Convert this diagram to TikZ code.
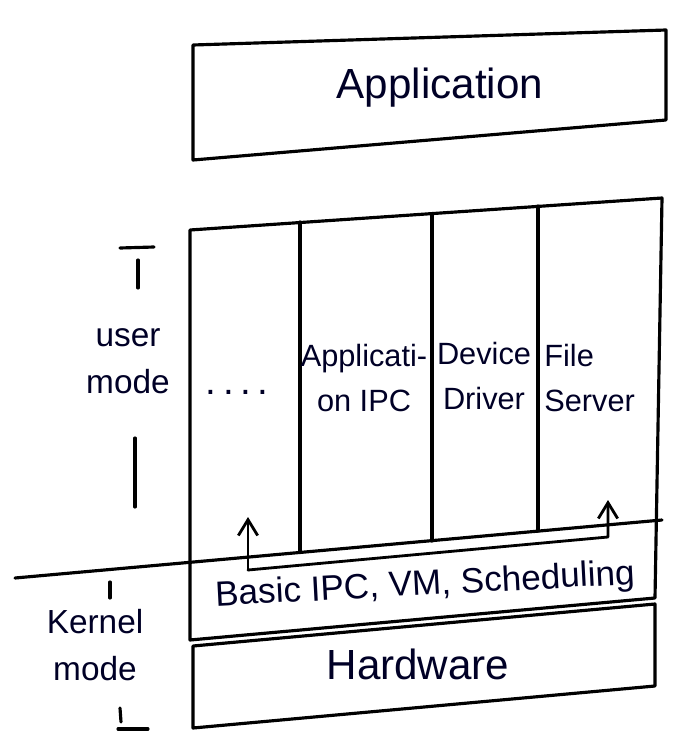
\documentclass[tikz,border=0pt]{standalone}
\usepackage{fontspec}
\setmainfont{Liberation Sans}
\usetikzlibrary{arrows.meta}
\tikzset{
  ink/.style={line width=1.8pt, line join=round, line cap=round, black},
  label17/.style={font=\fontsize{17.5}{26}\selectfont, align=center, inner sep=0pt, text=black!85!blue},
  sidelabel/.style={font=\fontsize{19}{27}\selectfont, align=center, inner sep=0pt, text=black!85!blue},
  big/.style={font=\fontsize{24}{28}\selectfont, inner sep=0pt, text=black!85!blue},
  conn/.style={ink, line width=1.6pt, -{Straight Barb[length=9pt,width=11pt,line width=1.6pt]}},
}
\begin{document}
\begin{tikzpicture}[x=0.02cm, y=-0.02cm]
\useasboundingbox (0,0) rectangle (678,734);
% Application box
\draw[ink] (193,45) -- (666,30) -- (666,120) -- (193,160) -- cycle;
\node[big] (app) at (440,88) {Application};
% main box
\draw[ink] (190,230) -- (662,198) -- (655,598) -- (190,640) -- cycle;
% user/kernel separator
\draw[ink] (15,578) -- (662,520);
% column separators
\draw[ink] (300,222) -- (300,552);
\draw[ink] (432,214) -- (432,541);
\draw[ink] (538,206) -- (538,531);
% Hardware box
\draw[ink] (193,646) -- (655,604) -- (655,686) -- (193,728) -- cycle;
\node[big] (hw) at (418,664) {Hardware};
% column texts
\node[font=\fontsize{22}{26}\selectfont, inner sep=0pt, text=black!85!blue] (dots) at (237,392) {.\,.\,.\,.};
\node[label17] (aipc) at (364,378) {Applicati-\\on IPC};
\node[label17] (dd) at (484,376) {Device\\Driver};
\node[label17, align=left, anchor=west] (fs) at (544,378) {File\\Server};
% kernel text
\node[font=\fontsize{20}{24}\selectfont, inner sep=0pt, text=black!85!blue, rotate=3] (kern) at (425,586) {Basic IPC, VM, Scheduling};
% connector
\coordinate (hubL) at (248,570);
\coordinate (hubR) at (608,537);
\coordinate (tipL) at (248,517);
\coordinate (tipR) at (608,500);
\draw[conn] (hubL) -- (tipL);
\draw[conn] (hubL) -- (hubR) -- (tipR);
% left labels
\node[sidelabel] (um) at (128,361) {user\\mode};
\node[sidelabel] (km) at (95,645) {Kernel\\mode};
\draw[ink] (120,248) -- (154,247);
\draw[ink] (138,260) -- (138,288);
\draw[ink] (135,438) -- (135,507);
\draw[ink] (110,582) -- (110,598);
\draw[ink] (120,708) -- (121,722);
\draw[ink] (118,729) -- (148,729);
\end{tikzpicture}
\end{document}
